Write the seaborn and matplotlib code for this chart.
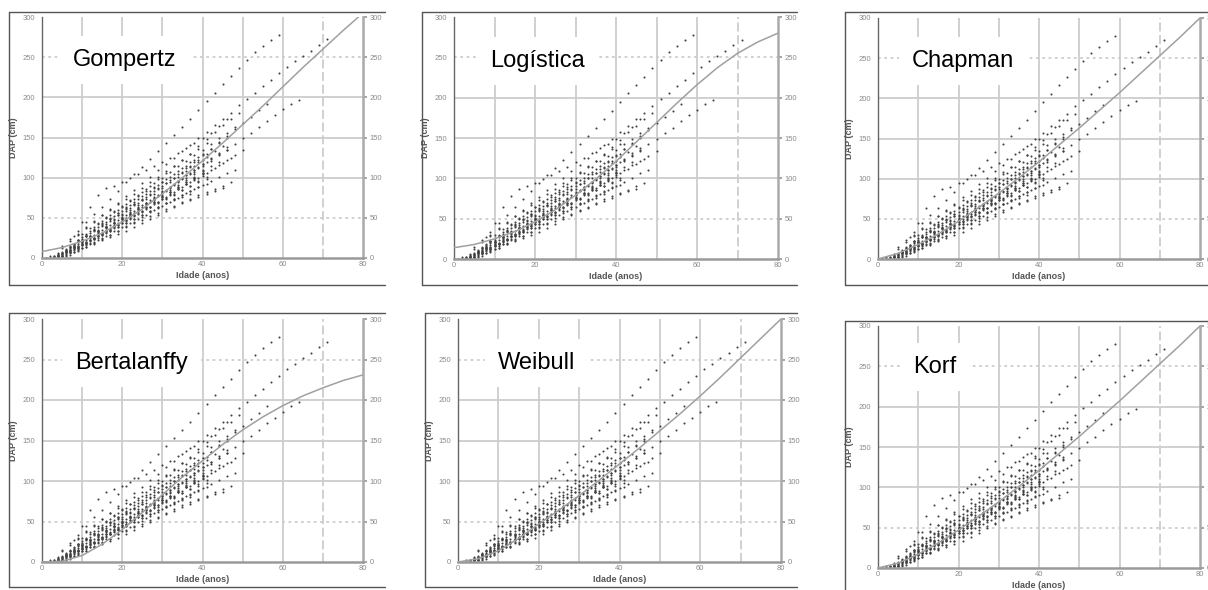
import numpy as np
import pandas as pd
import matplotlib.pyplot as plt
import seaborn as sns
from matplotlib.lines import Line2D


# stem analysis: first age of each tree and DAP (cm) every 2 years from it
tree_start = [5, 5, 4, 2, 5, 4, 2, 3, 5, 4, 3, 6, 5, 4, 7, 8, 2, 5, 3, 6, 4, 1, 0, 1, 7, 9,
              6, 3, 7, 4, 9, 5, 8, 10]
tree_dap = [
    [15, 24, 33, 45, 55, 64, 74, 84, 94, 104, 113, 123, 133, 143, 153, 163, 173, 184, 195, 206,
     216, 226, 237, 247, 256, 264, 271, 278],
    [13, 21, 29, 37, 45, 53, 61, 69, 77, 85, 93, 101, 109, 117, 125, 133, 141, 149, 157, 165,
     173, 181, 190, 198, 206, 214, 222, 230, 238, 245, 252, 258, 265, 272],
    [5, 9, 14, 20, 26, 32, 38, 44, 50, 56, 62, 68, 74, 81, 87, 94, 100, 107, 114, 121,
     128, 135, 142, 149, 156, 163, 171, 178, 185, 192, 197],
    [2, 6, 11, 16, 22, 28, 35, 42, 48, 55, 62, 69, 76, 83, 90, 97, 105, 112, 120, 128,
     136, 144, 152, 160, 168, 176, 184, 192],
    [2, 6, 10, 14, 18, 22, 26, 30, 34, 39, 44, 49, 54, 59, 63, 68, 72, 76, 80, 84, 87],
    [1, 4, 8, 13, 18, 23, 28, 33, 38, 43, 49, 54, 60, 65, 70, 75, 81, 86, 91, 96, 101, 106, 110],
    [0, 2, 6, 11, 16, 21, 27, 32, 38, 44, 50, 56, 62, 68, 74, 80, 86, 92, 98, 104, 110, 116, 122, 128, 134],
    [0, 3, 8, 13, 18, 24, 30, 35, 41, 47, 53, 58, 64, 70, 75, 80, 85, 90, 94, 98],
    [5, 10, 15, 20, 25, 31, 36, 42, 47, 53, 58, 64, 70, 76, 82, 88, 94, 100, 106, 112, 118, 124],
    [3, 8, 14, 19, 25, 31, 37, 43, 49, 55, 61, 67, 73, 79, 85, 91, 97, 104, 110],
    [1, 5, 11, 17, 23, 29, 35, 41, 47, 53, 59, 66, 72, 79, 85, 92, 99, 106, 113, 120],
    [8, 14, 21, 27, 33, 39, 45, 51, 57, 63, 69, 76, 83, 89, 96, 103, 110, 117, 123, 129, 134],
    [6, 13, 20, 27, 33, 40, 46, 53, 59, 66, 72, 79, 86, 93, 100, 107, 114, 122, 130],
    [4, 10, 17, 24, 31, 38, 45, 52, 59, 66, 73, 80, 87, 94, 101, 108, 115, 122, 129, 136, 143, 150],
    [14, 22, 30, 38, 46, 53, 60, 67, 74, 82, 90, 98, 106, 114, 122, 130, 139, 148, 157, 165, 173, 181],
    [27, 45, 64, 78, 87, 90, 94, 99, 104, 109, 114, 120, 125, 131, 137, 143, 149, 156, 164, 173],
    [0, 4, 9, 15, 21, 27, 33, 38, 44, 50, 55, 61, 66, 72, 77, 82, 87, 92, 97, 102],
    [4, 9, 14, 19, 24, 29, 34, 39, 44, 49, 54, 59, 64, 68, 72, 76, 80],
    [2, 8, 15, 22, 29, 36, 43, 50, 56, 62, 67, 72],
    [10, 18, 26, 34, 42, 50, 57, 64, 71, 77, 83, 89, 95],
    [2, 7, 12, 17, 22, 28, 34, 40, 46, 52, 58, 64, 70, 76, 82, 89, 95, 101, 108, 114, 120],
    [0, 0, 0, 4, 9, 14, 19, 24, 29, 34, 40, 45, 51, 57, 62, 68, 73, 78, 83, 88, 92],
    [0, 0, 0, 3, 8, 13, 19, 25, 31, 37, 43, 49, 55, 61, 67, 73, 79, 86, 92, 99, 106],
    [0, 0, 2, 7, 13, 19, 25, 31, 37, 43, 50, 56, 63, 70, 77, 84, 91, 98, 105, 112],
    [14, 21, 28, 35, 41, 48, 54, 61, 67, 74, 80, 87, 93, 100, 106, 113, 119, 126, 133, 140],
    [30, 38, 46, 53, 60, 67, 73, 80, 87, 94, 101, 108, 115, 122, 129, 136, 143],
    [5, 10, 16, 22, 28, 34, 40, 46, 52, 58, 64, 70, 76, 82, 88, 94, 100, 106],
    [2, 6, 10, 15, 20, 25, 30, 35, 41, 46, 52, 57, 63, 68, 74, 79, 85, 90, 96, 101],
    [9, 14, 19, 24, 29, 34, 39, 44, 49, 54, 59, 64, 69, 74, 79, 84, 89],
    [3, 9, 15, 21, 27, 34, 40, 47, 53, 60, 66, 73, 80, 87, 94, 101, 108, 115, 122],
    [22, 28, 35, 42, 49, 56, 63, 70, 77, 84, 91, 98, 105, 112, 119, 126],
    [3, 7, 11, 16, 20, 25, 29, 34, 38, 43, 47, 52, 56, 61, 65, 70, 74, 78, 82, 86, 90, 94],
    [12, 17, 23, 29, 35, 41, 48, 54, 61, 68, 75, 82, 89, 96, 103, 110, 117, 124, 131, 138],
    [30, 37, 44, 51, 58, 65, 72, 79, 86, 93, 100, 107, 114, 121, 128, 135, 142, 149, 156, 163],
]

# fitted curves read at ages 0, 5, ..., 80
curve_age = [0, 5, 10, 15, 20, 25, 30, 35, 40, 45, 50, 55, 60, 65, 70, 75, 80]
gompertz = [8, 13, 21, 31, 45, 61, 80, 100, 121, 143, 166, 189, 213, 237, 260, 283, 305]
logistica = [14, 18, 25, 34, 46, 61, 79, 99, 121, 145, 169, 193, 216, 237, 255, 269, 280]
chapman = [0, 7, 18, 31, 47, 64, 82, 101, 121, 142, 163, 185, 207, 230, 253, 276, 300]
bertalanffy = [0, 1, 8, 22, 40, 61, 83, 105, 125, 145, 163, 179, 193, 205, 215, 224, 231]
weibull = [0, 4, 14, 29, 47, 64, 82, 101, 121, 141, 162, 183, 205, 228, 252, 276, 300]
korf = [0, 6, 17, 31, 47, 64, 82, 101, 121, 142, 163, 185, 207, 230, 253, 276, 300]

rows = []
for start, vals in zip(tree_start, tree_dap):
    for i, v in enumerate(vals):
        rows.append((start + 2 * i, v))
obs = pd.DataFrame(rows, columns=["idade", "dap"])

sns.set_theme(style="white")
plt.rcParams['font.family'] = ['Liberation Sans', 'DejaVu Sans']

W, H = 1208, 590
fig = plt.figure(figsize=(W / 100, H / 100), dpi=100)

# name, curve, axes box (l, t, r, b) px, frame box px, label pos (axes fraction)
panels = [
    ("Gompertz", gompertz, (42, 17, 363, 258), (9, 12, 385, 285), (0.097, 0.82)),
    ("Logística", logistica, (454, 17, 778, 259), (422, 12, 797, 285), (0.111, 0.82)),
    ("Chapman", chapman, (878, 18, 1200, 259), (845, 12, 1215, 285), (0.106, 0.82)),
    ("Bertalanffy", bertalanffy, (42, 319, 363, 562), (9, 313, 385, 587), (0.103, 0.82)),
    ("Weibull", weibull, (458, 319, 781, 562), (425, 313, 797, 587), (0.124, 0.82)),
    ("Korf", korf, (878, 326, 1200, 568), (845, 321, 1215, 600), (0.109, 0.83)),
]

grid_c = '#cdcdcd'
for name, curve, (l, t, r, b), (fl, ft, fr, fb), (tx, ty) in panels:
    # outer frame (top, left, bottom)
    for xs, ys in [([fl, fr], [ft, ft]), ([fl, fl], [ft, fb]), ([fl, fr], [fb, fb])]:
        fig.add_artist(Line2D([x / W for x in xs], [1 - y / H for y in ys],
                              color='#555555', lw=1))

    ax = fig.add_axes([l / W, 1 - b / H, (r - l) / W, (b - t) / H])
    for gx in [10, 20, 30, 40, 50, 60]:
        ax.axvline(gx, color=grid_c, lw=1.3, zorder=0)
    ax.axvline(70, color=grid_c, lw=1.3, ls=(0, (5, 2)), zorder=0)
    for gy in [100, 150, 200]:
        ax.axhline(gy, color=grid_c, lw=1.3, zorder=0)
    for gy in [50, 250]:
        ax.axhline(gy, color=grid_c, lw=1.3, ls=(0, (1.5, 2)), zorder=0)

    sns.scatterplot(data=obs, x='idade', y='dap', ax=ax, s=2.2, marker='o',
                    color='#404040', linewidth=0, zorder=2)
    sns.lineplot(x=curve_age, y=curve, ax=ax, color='#a0a0a0', lw=1.1, zorder=3)

    ax.set_xlim(0, 80)
    ax.set_ylim(0, 300)
    ax.set_xticks([0, 20, 40, 60, 80])
    ax.set_yticks([0, 50, 100, 150, 200, 250, 300])
    ax.tick_params(axis='both', labelsize=5.5, labelcolor='#8a8a8a', pad=2)
    ax.tick_params(axis='x', bottom=False, length=0)
    ax.tick_params(axis='y', left=False, right=True, labelright=True,
                   length=3, color='#999999')
    ax.set_xlabel('Idade (anos)', fontsize=6.5, fontweight='bold', color='#555555', labelpad=2)
    ax.set_ylabel('DAP (cm)', fontsize=6.5, fontweight='bold', color='#555555', labelpad=3)

    ax.spines['top'].set_visible(False)
    ax.spines['left'].set_color('#666666')
    ax.spines['left'].set_linewidth(1)
    ax.spines['bottom'].set_color('#9a9a9a')
    ax.spines['bottom'].set_linewidth(1.8)
    ax.spines['right'].set_color('#aaaaaa')
    ax.spines['right'].set_linewidth(1.8)

    ax.text(tx, ty, name, transform=ax.transAxes, fontsize=17, ha='left', va='center',
            color='black', zorder=5,
            bbox=dict(facecolor='white', edgecolor='none', boxstyle='square,pad=0.55'))

fig.savefig('out.png', dpi=100)
